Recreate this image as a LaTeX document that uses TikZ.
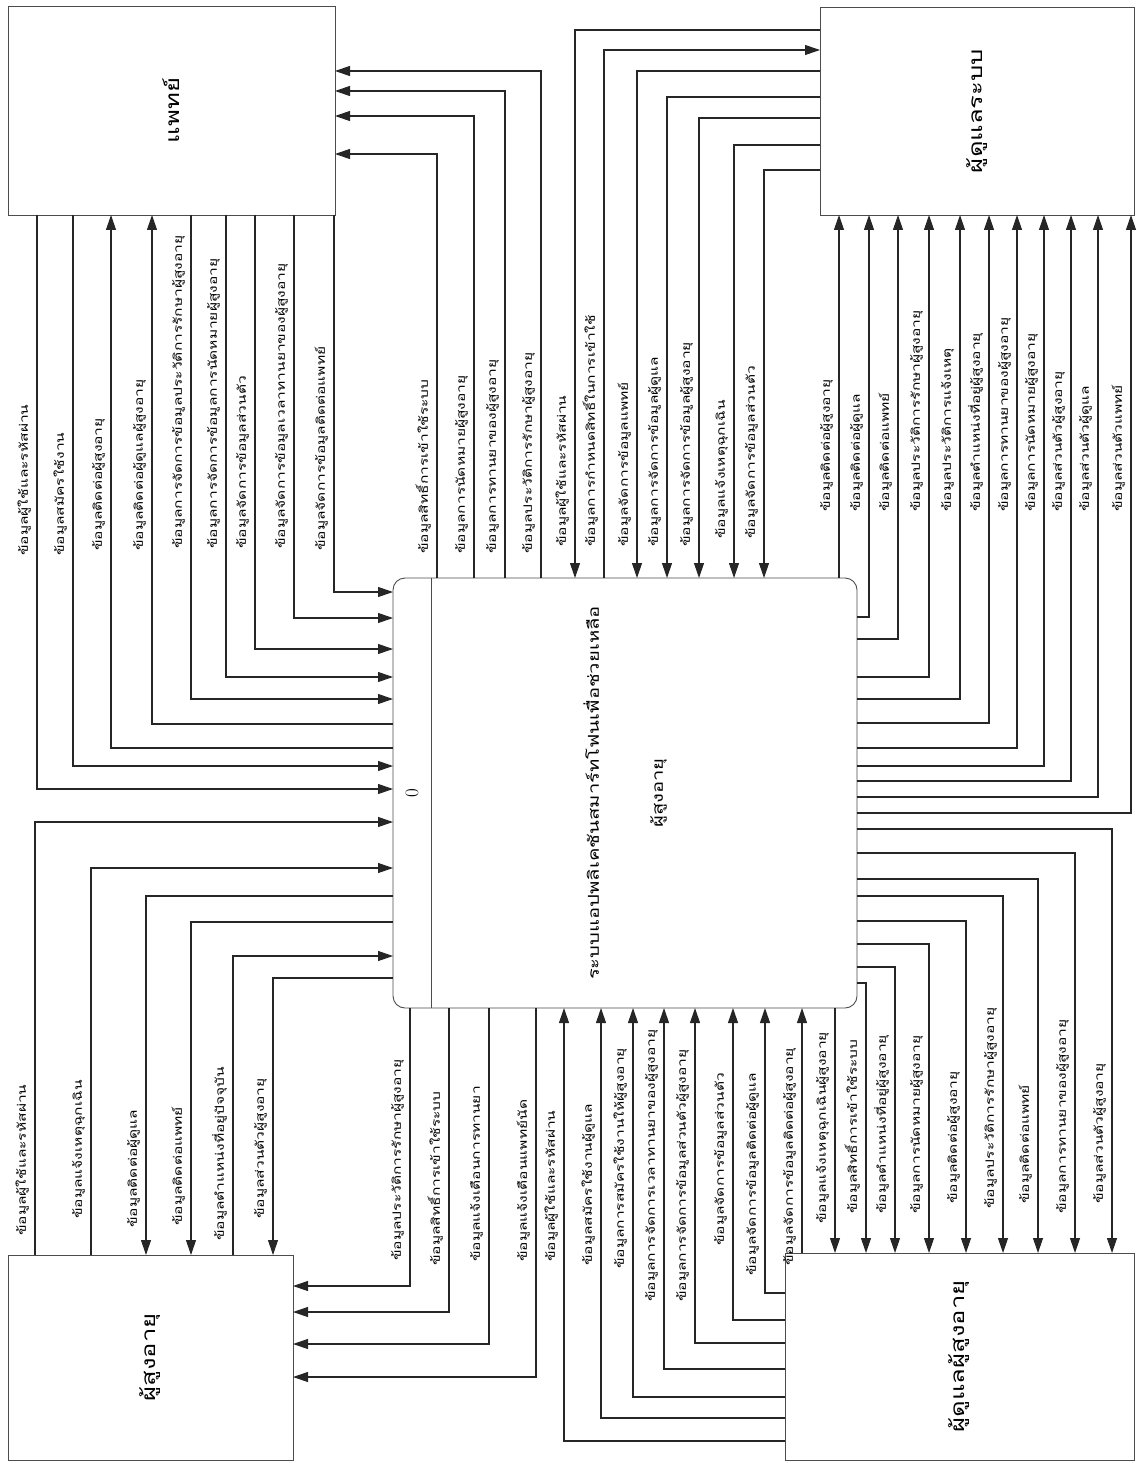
\documentclass[tikz,border=0pt]{standalone}
\usepackage{fontspec}
\newfontfamily\thai[Script=Thai, FakeStretch=1.35]{Loma}
\usetikzlibrary{arrows.meta}

\begin{document}
\begin{tikzpicture}[x=1pt, y=-1pt,
    ent/.style={draw=black!70, line width=0.9pt, fill=white, outer sep=0pt, inner sep=0pt},
    proc/.style={ent, rounded corners=12pt},
    boxtxt/.style={rotate=90, font=\thai\fontsize{19}{22}\selectfont},
    arr/.style={-{Triangle[length=15pt, width=10pt]}, line width=1.1pt, draw=black!85},
    lbl/.style={rotate=90, anchor=south west, inner sep=1pt,
        font=\thai\fontsize{11.5}{13}\selectfont, text=black},
]
\useasboundingbox (0,0) rectangle (1136,1463);

% External entities
\node[ent, minimum width=327pt, minimum height=209pt] (doc) at (171.5,110.5) {};
\node[ent, minimum width=314pt, minimum height=208pt] (adm) at (977,111) {};
\node[ent, minimum width=285pt, minimum height=205pt] (eld) at (150.5,1357.5) {};
\node[ent, minimum width=349pt, minimum height=207pt] (cg)  at (959.5,1356.5) {};
\node[boxtxt] (doctxt) at (doc.center) {แพทย์};
\node[boxtxt] (admtxt) at (adm.center) {ผู้ดูแลระบบ};
\node[boxtxt] (eldtxt) at (eld.center) {ผู้สูงอายุ};
\node[boxtxt] (cgtxt)  at (cg.center)  {ผู้ดูแลผู้สูงอายุ};

% Process 0
\node[proc, minimum width=464pt, minimum height=430pt] (proc) at (625,793) {};
\draw[draw=black!70, line width=0.9pt] (proc.north -| 431,0) -- (proc.south -| 431,0);
\node[rotate=90, font=\fontsize{19}{21}\selectfont] (pnum) at (412,793) {0};
\node[rotate=90, align=center, font=\thai\fontsize{15}{64}\selectfont] (ptxt) at (625,793)
    {ระบบแอปพลิเคชันสมาร์ทโฟนเพื่อช่วยเหลือ\\ผู้สูงอายุ};

% Doctor <-> process (doctor bottom)
\draw[arr] (doc.south -| 37,0) |- (proc.west |- 0,789);
\draw[arr] (doc.south -| 73,0) |- (proc.west |- 0,766);
\draw[arr] (proc.west |- 0,748) -| (doc.south -| 111,0);
\draw[arr] (proc.west |- 0,724) -| (doc.south -| 152,0);
\draw[arr] (doc.south -| 191,0) |- (proc.west |- 0,699);
\draw[arr] (doc.south -| 226,0) |- (proc.west |- 0,677);
\draw[arr] (doc.south -| 255,0) |- (proc.west |- 0,649);
\draw[arr] (doc.south -| 294,0) |- (proc.west |- 0,618);
\draw[arr] (doc.south -| 334,0) |- (proc.west |- 0,592);
\node[lbl] (dl1) at (32,557) {ข้อมูลผู้ใช้และรหัสผ่าน};
\node[lbl] (dl2) at (68,557) {ข้อมูลสมัครใช้งาน};
\node[lbl] (dl3) at (106,552) {ข้อมูลติดต่อผู้สูงอายุ};
\node[lbl] (dl4) at (147,552) {ข้อมูลติดต่อผู้ดูแลผู้สูงอายุ};
\node[lbl] (dl5) at (186,550) {ข้อมูลการจัดการข้อมูลประวัติการรักษาผู้สูงอายุ};
\node[lbl] (dl6) at (221,550) {ข้อมูลการจัดการข้อมูลการนัดหมายผู้สูงอายุ};
\node[lbl] (dl7) at (250,550) {ข้อมูลจัดการข้อมูลส่วนตัว};
\node[lbl] (dl8) at (289,550) {ข้อมูลจัดการข้อมูลเวลาทานยาของผู้สูงอายุ};
\node[lbl] (dl9) at (329,552) {ข้อมูลจัดการข้อมูลติดต่อแพทย์};

% Process -> doctor (doctor right side)
\draw[arr] (proc.north -| 437,0) |- (doc.east |- 0,154);
\draw[arr] (proc.north -| 474,0) |- (doc.east |- 0,116);
\draw[arr] (proc.north -| 505,0) |- (doc.east |- 0,91);
\draw[arr] (proc.north -| 541,0) |- (doc.east |- 0,71);
\node[lbl] (dr1) at (432,555) {ข้อมูลสิทธิ์การเข้าใช้ระบบ};
\node[lbl] (dr2) at (469,555) {ข้อมูลการนัดหมายผู้สูงอายุ};
\node[lbl] (dr3) at (500,555) {ข้อมูลการทานยาของผู้สูงอายุ};
\node[lbl] (dr4) at (536,555) {ข้อมูลประวัติการรักษาผู้สูงอายุ};

% Admin <-> process (admin left side)
\draw[arr] (adm.west |- 0,30) -| (proc.north -| 575,0);
\draw[arr] (proc.north -| 604,0) |- (adm.west |- 0,50);
\draw[arr] (adm.west |- 0,71) -| (proc.north -| 637,0);
\draw[arr] (adm.west |- 0,97) -| (proc.north -| 667,0);
\draw[arr] (adm.west |- 0,118) -| (proc.north -| 699,0);
\draw[arr] (adm.west |- 0,145) -| (proc.north -| 734,0);
\draw[arr] (adm.west |- 0,170) -| (proc.north -| 764,0);
\node[lbl] (al1) at (570,548) {ข้อมูลผู้ใช้และรหัสผ่าน};
\node[lbl] (al2) at (599,548) {ข้อมูลการกำหนดสิทธิ์ในการเข้าใช้};
\node[lbl] (al3) at (632,548) {ข้อมูลจัดการข้อมูลแพทย์};
\node[lbl] (al4) at (662,548) {ข้อมูลการจัดการข้อมูลผู้ดูแล};
\node[lbl] (al5) at (694,548) {ข้อมูลการจัดการข้อมูลผู้สูงอายุ};
\node[lbl] (al6) at (729,540) {ข้อมูลแจ้งเหตุฉุกเฉิน};
\node[lbl] (al7) at (759,540) {ข้อมูลจัดการข้อมูลส่วนตัว};

% Process -> admin (admin bottom)
\draw[arr] (proc.north -| 839,0) -- (adm.south -| 839,0);
\draw[arr] (proc.east |- 0,617) -| (adm.south -| 869,0);
\draw[arr] (proc.east |- 0,639) -| (adm.south -| 898,0);
\draw[arr] (proc.east |- 0,677) -| (adm.south -| 929,0);
\draw[arr] (proc.east |- 0,699) -| (adm.south -| 960,0);
\draw[arr] (proc.east |- 0,723) -| (adm.south -| 989,0);
\draw[arr] (proc.east |- 0,748) -| (adm.south -| 1017,0);
\draw[arr] (proc.east |- 0,766) -| (adm.south -| 1044,0);
\draw[arr] (proc.east |- 0,781) -| (adm.south -| 1071,0);
\draw[arr] (proc.east |- 0,797) -| (adm.south -| 1098,0);
\draw[arr] (proc.east |- 0,813) -| (adm.south -| 1131,0);
\node[lbl] (ab1) at (834,513) {ข้อมูลติดต่อผู้สูงอายุ};
\node[lbl] (ab2) at (864,513) {ข้อมูลติดต่อผู้ดูแล};
\node[lbl] (ab3) at (893,513) {ข้อมูลติดต่อแพทย์};
\node[lbl] (ab4) at (924,513) {ข้อมูลประวัติการรักษาผู้สูงอายุ};
\node[lbl] (ab5) at (955,513) {ข้อมูลประวัติการแจ้งเหตุ};
\node[lbl] (ab6) at (984,513) {ข้อมูลตำแหน่งที่อยู่ผู้สูงอายุ};
\node[lbl] (ab7) at (1012,513) {ข้อมูลการทานยาของผู้สูงอายุ};
\node[lbl] (ab8) at (1039,513) {ข้อมูลการนัดหมายผู้สูงอายุ};
\node[lbl] (ab9) at (1066,513) {ข้อมูลส่วนตัวผู้สูงอายุ};
\node[lbl] (ab10) at (1093,513) {ข้อมูลส่วนตัวผู้ดูแล};
\node[lbl] (ab11) at (1126,513) {ข้อมูลส่วนตัวแพทย์};

% Process -> caregiver (caregiver top)
\draw[arr] (proc.south -| 835,0) -- (cg.north -| 835,0);
\draw[arr] (proc.east |- 0,983) -| (cg.north -| 866,0);
\draw[arr] (proc.east |- 0,967) -| (cg.north -| 895,0);
\draw[arr] (proc.east |- 0,944) -| (cg.north -| 929,0);
\draw[arr] (proc.east |- 0,921) -| (cg.north -| 966,0);
\draw[arr] (proc.east |- 0,896) -| (cg.north -| 1003,0);
\draw[arr] (proc.east |- 0,879) -| (cg.north -| 1038,0);
\draw[arr] (proc.east |- 0,853) -| (cg.north -| 1075,0);
\draw[arr] (proc.east |- 0,829) -| (cg.north -| 1112,0);
\node[lbl] (ct1) at (830,1225) {ข้อมูลแจ้งเหตุฉุกเฉินผู้สูงอายุ};
\node[lbl] (ct2) at (861,1215) {ข้อมูลสิทธิ์การเข้าใช้ระบบ};
\node[lbl] (ct3) at (890,1215) {ข้อมูลตำแหน่งที่อยู่ผู้สูงอายุ};
\node[lbl] (ct4) at (924,1215) {ข้อมูลการนัดหมายผู้สูงอายุ};
\node[lbl] (ct5) at (961,1205) {ข้อมูลติดต่อผู้สูงอายุ};
\node[lbl] (ct6) at (998,1210) {ข้อมูลประวัติการรักษาผู้สูงอายุ};
\node[lbl] (ct7) at (1033,1205) {ข้อมูลติดต่อแพทย์};
\node[lbl] (ct8) at (1070,1215) {ข้อมูลการทานยาของผู้สูงอายุ};
\node[lbl] (ct9) at (1107,1205) {ข้อมูลส่วนตัวผู้สูงอายุ};

% Caregiver -> process (caregiver left side)
\draw[arr] (cg.west |- 0,1441) -| (proc.south -| 564,0);
\draw[arr] (cg.west |- 0,1418) -| (proc.south -| 601,0);
\draw[arr] (cg.west |- 0,1397) -| (proc.south -| 633,0);
\draw[arr] (cg.west |- 0,1369) -| (proc.south -| 664,0);
\draw[arr] (cg.west |- 0,1343) -| (proc.south -| 695,0);
\draw[arr] (cg.west |- 0,1320) -| (proc.south -| 733,0);
\draw[arr] (cg.west |- 0,1293) -| (proc.south -| 765,0);
\draw[arr] (cg.north -| 802,0) -- (proc.south -| 802,0);
\node[lbl] (cl1) at (559,1263) {ข้อมูลผู้ใช้และรหัสผ่าน};
\node[lbl] (cl2) at (596,1267) {ข้อมูลสมัครใช้งานผู้ดูแล};
\node[lbl] (cl3) at (628,1270) {ข้อมูลการสมัครใช้งานให้ผู้สูงอายุ};
\node[lbl] (cl4) at (659,1303) {ข้อมูลการจัดการเวลาทานยาของผู้สูงอายุ};
\node[lbl] (cl5) at (690,1303) {ข้อมูลการจัดการข้อมูลส่วนตัวผู้สูงอายุ};
\node[lbl] (cl6) at (728,1247) {ข้อมูลจัดการข้อมูลส่วนตัว};
\node[lbl] (cl7) at (760,1277) {ข้อมูลจัดการข้อมูลติดต่อผู้ดูแล};
\node[lbl] (cl8) at (797,1267) {ข้อมูลจัดการข้อมูลติดต่อผู้สูงอายุ};

% Elderly <-> process (elderly top)
\draw[arr] (eld.north -| 35,0) |- (proc.west |- 0,822);
\draw[arr] (eld.north -| 91,0) |- (proc.west |- 0,868);
\draw[arr] (proc.west |- 0,896) -| (eld.north -| 146,0);
\draw[arr] (proc.west |- 0,922) -| (eld.north -| 191,0);
\draw[arr] (eld.north -| 233,0) |- (proc.west |- 0,956);
\draw[arr] (proc.west |- 0,978) -| (eld.north -| 273,0);
\node[lbl] (et1) at (30,1237) {ข้อมูลผู้ใช้และรหัสผ่าน};
\node[lbl] (et2) at (86,1220) {ข้อมูลแจ้งเหตุฉุกเฉิน};
\node[lbl] (et3) at (141,1229) {ข้อมูลติดต่อผู้ดูแล};
\node[lbl] (et4) at (186,1227) {ข้อมูลติดต่อแพทย์};
\node[lbl] (et5) at (228,1242) {ข้อมูลตำแหน่งที่อยู่ปัจจุบัน};
\node[lbl] (et6) at (268,1220) {ข้อมูลส่วนตัวผู้สูงอายุ};

% Process -> elderly (elderly right side)
\draw[arr] (proc.south -| 410,0) |- (eld.east |- 0,1286);
\draw[arr] (proc.south -| 449,0) |- (eld.east |- 0,1312);
\draw[arr] (proc.south -| 489,0) |- (eld.east |- 0,1344);
\draw[arr] (proc.south -| 536,0) |- (eld.east |- 0,1377);
\node[lbl] (er1) at (405,1262) {ข้อมูลประวัติการรักษาผู้สูงอายุ};
\node[lbl] (er2) at (444,1267) {ข้อมูลสิทธิ์การเข้าใช้ระบบ};
\node[lbl] (er3) at (484,1263) {ข้อมูลแจ้งเตือนการทานยา};
\node[lbl] (er4) at (531,1263) {ข้อมูลแจ้งเตือนแพทย์นัด};

\end{tikzpicture}
\end{document}
